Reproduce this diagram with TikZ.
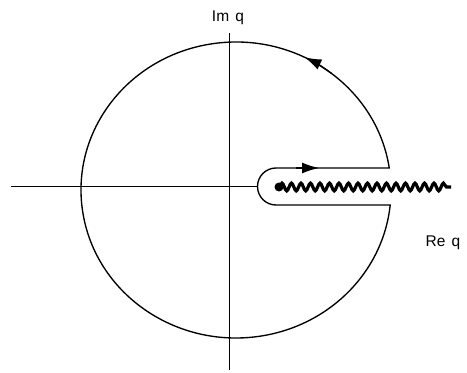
\documentclass[tikz,border=0pt]{standalone}
\usepackage{fontspec}
\setmainfont{Liberation Sans}
\usetikzlibrary{arrows.meta,decorations.pathmorphing,calc}

\begin{document}
\begin{tikzpicture}[x=1pt, y=1pt,
    axisline/.style={line width=1pt},
    contour/.style={line width=1.35pt},
    headtip/.style={-{Latex[length=17pt,width=11pt]}, line width=1.35pt},
    cutline/.style={line width=3.2pt, decorate,
        decoration={snake, segment length=9.5pt, amplitude=3.8pt}},
    lbl/.style={font=\fontsize{15.5}{18}\selectfont}]
            \useasboundingbox (0,0) rectangle (467,373);
            \coordinate (c) at (236,183);
            \coordinate (hole) at (276,186.5);

            % --- Axes ---
            \draw[axisline] (11,186) -- (257.5,186);
            \draw[axisline] (229,3) -- (229,340);
            \node[lbl] (imq) at (228,355) {Im\hspace{0.4em}q};
            \node[lbl] (req) at (443,130) {Re\hspace{0.4em}q};

            % --- Keyhole contour ---
            \draw[contour] (276,205) -- ($(c)+(8.55:155 and 148)$)
                arc[start angle=8.55, end angle=354.18, x radius=155, y radius=148]
                -- (276,168)
                arc[start angle=270, end angle=90, radius=18.5] -- cycle;

            % Direction marks
            \draw[headtip] (296,205) -- (319,205);
            \draw[headtip] ($(c)+(52:155 and 148)$)
                arc[start angle=52, end angle=63.8, x radius=155, y radius=148];

            % --- Branch cut ---
            \fill (279,186) circle (4.5);
            \draw[cutline] (279,186) -- (451,186);
        \end{tikzpicture}
\end{document}
